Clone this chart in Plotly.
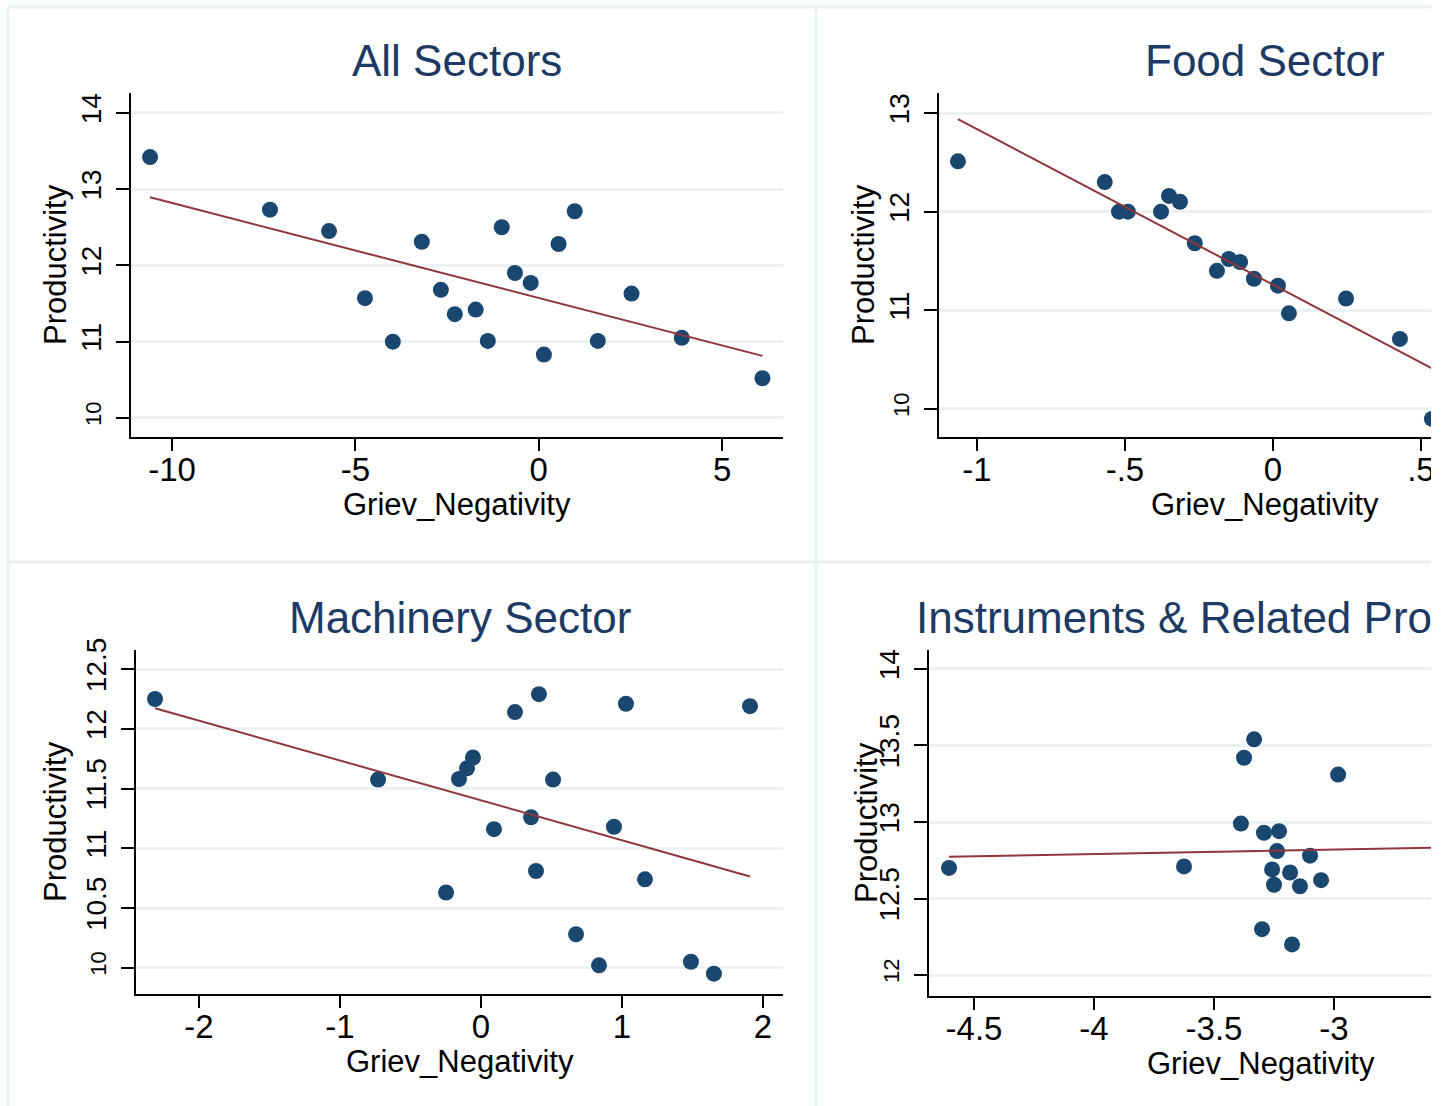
import numpy as np
import plotly.graph_objects as go

# ---------------- data ----------------
titles = ["All Sectors", "Food Sector", "Machinery Sector", "Instruments & Related Products"]
x_title = "Griev_Negativity"
y_title = "Productivity"

all_x = [-10.6, -7.33, -5.72, -4.74, -3.98, -3.19, -2.67, -2.29, -1.72, -1.39,
         -1.01, -0.65, -0.22, 0.14, 0.54, 0.98, 1.61, 2.53, 3.90, 6.10]
all_y = [13.42, 12.73, 12.45, 11.57, 11.00, 12.31, 11.68, 11.36, 11.42, 11.01,
         12.50, 11.90, 11.77, 10.83, 12.28, 12.71, 11.01, 11.63, 11.05, 10.52]

food_x = [-1.064, -0.568, -0.520, -0.490, -0.378, -0.351, -0.314, -0.264, -0.189,
          -0.149, -0.111, -0.064, 0.017, 0.054, 0.247, 0.429, 0.537]
food_y = [12.51, 12.30, 12.00, 12.00, 12.00, 12.16, 12.10, 11.68, 11.40,
          11.52, 11.49, 11.32, 11.25, 10.97, 11.12, 10.71, 9.90]

mach_x = [-2.312, -0.730, -0.156, -0.099, -0.057, -0.248, 0.092, 0.241, 0.355, 0.390,
          0.411, 0.511, 0.674, 0.837, 0.943, 1.028, 1.163, 1.489, 1.652, 1.908]
mach_y = [12.25, 11.575, 11.58, 11.67, 11.76, 10.63, 11.16, 12.14, 11.26, 10.81,
          12.29, 11.575, 10.28, 10.02, 11.18, 12.21, 10.74, 10.05, 9.95, 12.19]

inst_x = [-4.604, -3.625, -3.333, -3.375, -2.983, -3.388, -3.292, -3.229, -3.2375,
          -3.100, -3.258, -3.183, -3.250, -3.142, -3.054, -3.300, -3.175]
inst_y = [12.70, 12.71, 13.54, 13.42, 13.31, 12.99, 12.93, 12.94, 12.81,
          12.78, 12.69, 12.67, 12.59, 12.58, 12.62, 12.30, 12.20]

all_xticks = [-10, -5, 0, 5]
all_xtick_text = ["-10", "-5", "0", "5"]
all_yticks = [10, 11, 12, 13, 14]
all_ytick_text = ["10", "11", "12", "13", "14"]

food_xticks = [-1, -0.5, 0, 0.5]
food_xtick_text = ["-1", "-.5", "0", ".5"]
food_yticks = [10, 11, 12, 13]
food_ytick_text = ["10", "11", "12", "13"]

mach_xticks = [-2, -1, 0, 1, 2]
mach_xtick_text = ["-2", "-1", "0", "1", "2"]
mach_yticks = [10, 10.5, 11, 11.5, 12, 12.5]
mach_ytick_text = ["10", "10.5", "11", "11.5", "12", "12.5"]

inst_xticks = [-4.5, -4, -3.5, -3]
inst_xtick_text = ["-4.5", "-4", "-3.5", "-3"]
inst_yticks = [12, 12.5, 13, 13.5, 14]
inst_ytick_text = ["12", "12.5", "13", "13.5", "14"]

# ---------------- layout geometry (pixels of the 1446x1106 page) ----------------
W, H = 1431, 1106          # the original is cropped at x = 1431
FONT = "Arial, 'Liberation Sans', sans-serif"
NAVY = "#1a476f"
MAROON = "#90353b"
GRID = "#eaf2f3"
TITLE_COLOR = "#1c3a63"
BORDER = "#e9f0f2"


def fx(px):
    return px / W


def fy(py):
    return 1 - py / H


panels = [
    dict(x=all_x, y=all_y, xt=all_xticks, xtt=all_xtick_text, yt=all_yticks, ytt=all_ytick_text,
         box=(131, 93, 783, 437), xr=[-11.12, 6.66], yr=[9.75, 14.26], cropped=False,
         title_pos=(457, "center"), xlab_x=457, ylab_x=55),
    dict(x=food_x, y=food_y, xt=food_xticks, xtt=food_xtick_text, yt=food_yticks, ytt=food_ytick_text,
         box=(939, 93, 1431, 437), xr=[-1.128, 0.534], yr=[9.716, 13.203], cropped=True,
         title_pos=(1265, "center"), xlab_x=1265, ylab_x=863),
    dict(x=mach_x, y=mach_y, xt=mach_xticks, xtt=mach_xtick_text, yt=mach_yticks, ytt=mach_ytick_text,
         box=(136, 650, 783, 994), xr=[-2.447, 2.142], yr=[9.78, 12.66], cropped=False,
         title_pos=(460, "center"), xlab_x=460, ylab_x=55),
    dict(x=inst_x, y=inst_y, xt=inst_xticks, xtt=inst_xtick_text, yt=inst_yticks, ytt=inst_ytick_text,
         box=(929, 650, 1431, 996), xr=[-4.6875, -2.596], yr=[11.863, 14.124], cropped=True,
         title_pos=(914, "left"), xlab_x=1261, ylab_x=866),
]

fig = go.Figure()
annotations = []
for i, p in enumerate(panels):
    n = "" if i == 0 else str(i + 1)
    xa, ya = "x" + n, "y" + n
    l, t, r, b = p["box"]
    x = np.array(p["x"], dtype=float)
    y = np.array(p["y"], dtype=float)
    slope, icpt = np.polyfit(x, y, 1)
    x0 = x.min()
    x1 = max(x.max(), p["xr"][1]) if p["cropped"] else x.max()
    lx = np.array([x0, x1])
    fig.add_trace(go.Scatter(x=x, y=y, mode="markers", xaxis=xa, yaxis=ya,
                             marker=dict(color=NAVY, size=16, line=dict(width=0)),
                             showlegend=False, hoverinfo="skip"))
    fig.add_trace(go.Scatter(x=lx, y=icpt + slope * lx, mode="lines", xaxis=xa, yaxis=ya,
                             line=dict(color=MAROON, width=2), showlegend=False, hoverinfo="skip"))

    # lowest y label is drawn smaller in the original
    ytt = list(p["ytt"])
    ytt[0] = '<span style="font-size:22px">' + ytt[0] + "</span>"

    common = dict(showline=True, linecolor="black", linewidth=1.6, ticks="outside",
                  tickcolor="black", tickwidth=1.6, zeroline=False, fixedrange=True,
                  automargin=False, mirror=False, ticklabeloverflow="allow")
    fig.layout["xaxis" + n] = dict(common, domain=[fx(l), fx(r)], range=p["xr"],
                                   anchor=ya, tickmode="array", tickvals=p["xt"], ticktext=p["xtt"],
                                   ticklen=12, showgrid=False, ticklabelstandoff=-9,
                                   tickfont=dict(family=FONT, color="black", size=33))
    fig.layout["yaxis" + n] = dict(common, domain=[fy(b), fy(t)], range=p["yr"],
                                   anchor=xa, tickmode="array", tickvals=p["yt"], ticktext=ytt,
                                   ticklen=13, tickangle=-90, showgrid=True, gridcolor=GRID,
                                   gridwidth=2.5, ticklabelstandoff=4,
                                   tickfont=dict(family=FONT, color="black", size=28))
    tx, tanchor = p["title_pos"]
    annotations.append(dict(text=titles[i], x=fx(tx), y=fy(t - 33), xref="paper", yref="paper",
                            showarrow=False, xanchor=tanchor, yanchor="middle",
                            font=dict(family=FONT, size=44, color=TITLE_COLOR)))
    annotations.append(dict(text=x_title, x=fx(p["xlab_x"]), y=fy(b + 67), xref="paper", yref="paper",
                            showarrow=False, xanchor="center", yanchor="middle",
                            font=dict(family=FONT, size=31, color="black")))
    annotations.append(dict(text=y_title, x=fx(p["ylab_x"]), y=fy((t + b) / 2), xref="paper",
                            yref="paper", showarrow=False, xanchor="center", yanchor="middle",
                            textangle=-90, font=dict(family=FONT, size=31, color="black")))

shapes = [
    dict(type="line", xref="paper", yref="paper", x0=fx(8), x1=fx(8), y0=fy(7), y1=0,
         line=dict(color=BORDER, width=3)),
    dict(type="line", xref="paper", yref="paper", x0=fx(8), x1=1, y0=fy(7), y1=fy(7),
         line=dict(color=BORDER, width=3)),
    dict(type="line", xref="paper", yref="paper", x0=fx(816), x1=fx(816), y0=fy(7), y1=0,
         line=dict(color=BORDER, width=3)),
    dict(type="line", xref="paper", yref="paper", x0=fx(8), x1=1, y0=fy(562), y1=fy(562),
         line=dict(color=BORDER, width=3)),
]

fig.update_layout(template="none", width=W, height=H, margin=dict(l=0, r=0, t=0, b=0, pad=0),
                  paper_bgcolor="white", plot_bgcolor="white", hovermode=False,
                  annotations=annotations, shapes=shapes, showlegend=False,
                  font=dict(family=FONT, color="black"))

fig.write_html("out.html", config={"displayModeBar": False},
               post_script="document.body.style.margin='0';document.body.style.overflow='hidden';")
